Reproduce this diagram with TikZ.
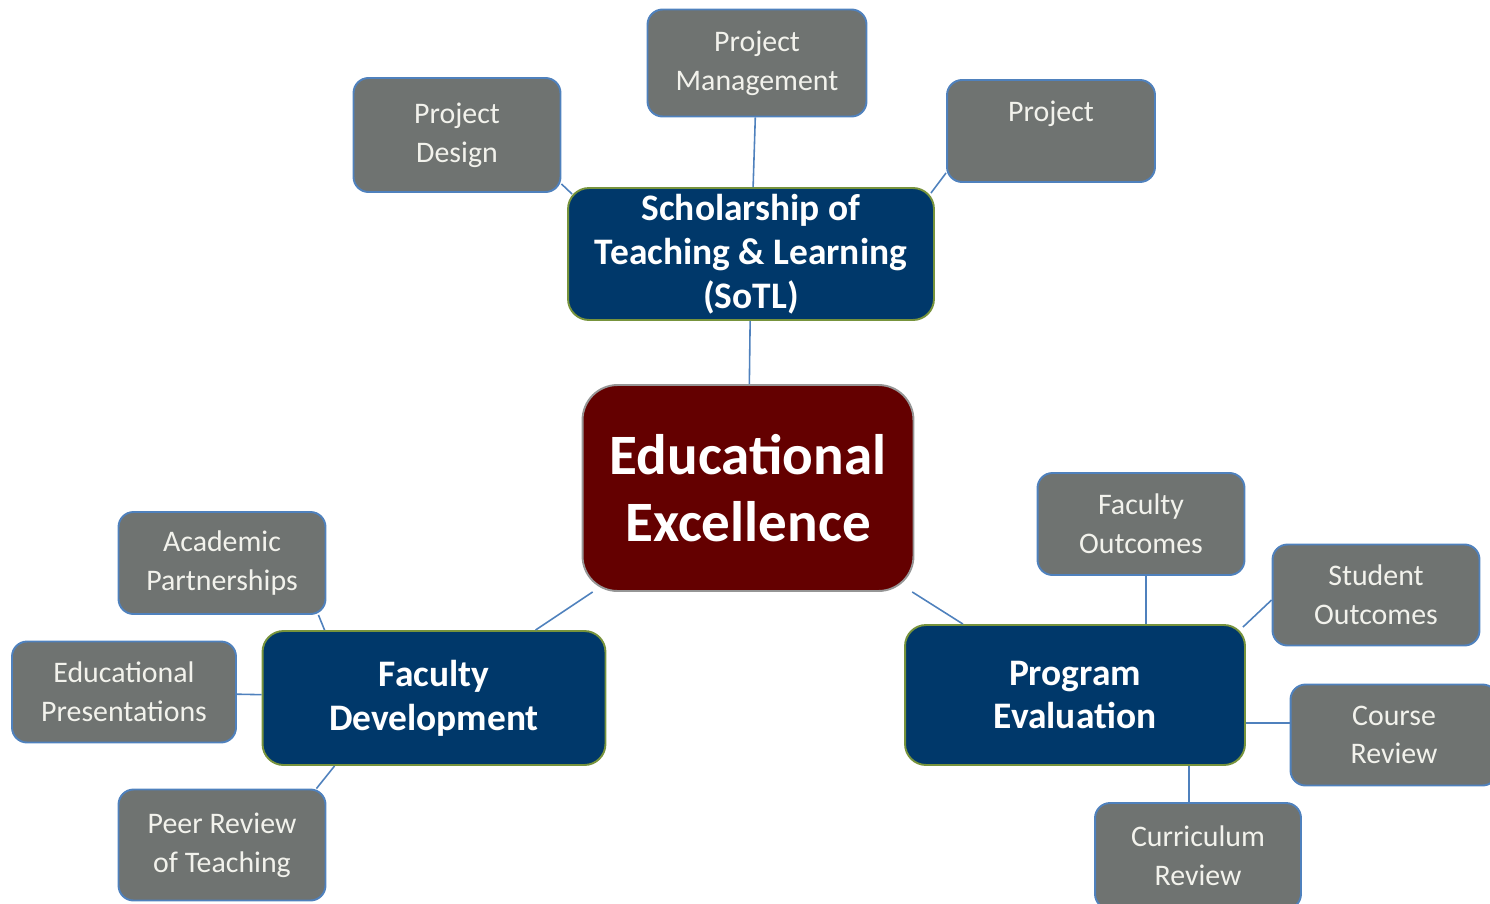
\documentclass[tikz,border=0pt]{standalone}
\usepackage{fontspec}
\setmainfont{Carlito}
\definecolor{leafgray}{RGB}{111,115,113}
\definecolor{leafedge}{RGB}{79,129,189}
\definecolor{leaftext}{RGB}{242,242,236}
\definecolor{branchblue}{RGB}{0,56,106}
\definecolor{branchedge}{RGB}{119,147,60}
\definecolor{hubred}{RGB}{100,0,0}
\definecolor{hubedge}{RGB}{150,150,150}
\definecolor{linkblue}{RGB}{79,129,189}
\tikzstyle{leaf}=[draw=leafedge, line width=1.1pt, fill=leafgray, rounded corners=0.3cm, text=leaftext, align=center, inner sep=0pt, font=\fontsize{17}{22}\selectfont]
\tikzstyle{branch}=[draw=branchedge, line width=1.1pt, fill=branchblue, rounded corners=0.42cm, text=white, align=center, inner sep=0pt, font=\bfseries\fontsize{21.3}{25}\selectfont]
\tikzstyle{hub}=[draw=hubedge, line width=1.1pt, fill=hubred, rounded corners=0.7cm, text=white, align=center, inner sep=0pt, font=\bfseries\fontsize{32.5}{38}\selectfont]
\tikzstyle{link}=[draw=linkblue, line width=0.9pt]
\begin{document}
\begin{tikzpicture}[x=0.02cm, y=-0.02cm]
\useasboundingbox (0,0) rectangle (1490,903);
% centre and the three branches
\node[hub, minimum width=6.62cm, minimum height=4.12cm] (ee) at (748,488) {Educational\\Excellence};
\node[branch, minimum width=7.32cm, minimum height=2.64cm] (sotl) at (751,254) {Scholarship of\\Teaching \& Learning\\(SoTL)};
\node[branch, minimum width=6.86cm, minimum height=2.68cm] (fd) at (434,698) {Faculty\\Development};
\node[branch, minimum width=6.80cm, minimum height=2.80cm] (pe) at (1075,695) {Program\\Evaluation};
% SoTL leaves
\node[leaf, minimum width=4.38cm, minimum height=2.14cm] (pm) at (757,63) {Project\\Management};
\node[leaf, minimum width=4.14cm, minimum height=2.28cm] (pd) at (457,135) {Project\\Design};
\node[leaf, minimum width=4.16cm, minimum height=2.04cm] (proj) at (1051,131) {Project\\~};
% faculty development leaves
\node[leaf, minimum width=4.14cm, minimum height=2.04cm] (ap) at (222,563) {Academic\\Partnerships};
\node[leaf, minimum width=4.48cm, minimum height=2.02cm] (ep) at (124,692) {Educational\\Presentations};
\node[leaf, minimum width=4.14cm, minimum height=2.22cm] (pr) at (222,845) {Peer Review\\of Teaching};
% program evaluation leaves
\node[leaf, minimum width=4.14cm, minimum height=2.04cm] (fo) at (1141,524) {Faculty\\Outcomes};
\node[leaf, minimum width=4.14cm, minimum height=2.02cm] (so) at (1376,595) {Student\\Outcomes};
\node[leaf, minimum width=4.14cm, minimum height=2.02cm] (cr) at (1394,735) {Course\\Review};
\node[leaf, minimum width=4.12cm, minimum height=2.12cm] (curr) at (1198,856) {Curriculum\\Review};
% connectors
\draw[link] (pm) -- (sotl);
\draw[link] ([yshift=0.18cm]pd.south east) -- ([xshift=0.1cm,yshift=-0.14cm]sotl.north west);
\draw[link] ([yshift=0.2cm]proj.south west) -- ([xshift=-0.08cm,yshift=-0.12cm]sotl.north east);
\draw[link] (sotl) -- (ee);
\draw[link] (ee) -- (fd);
\draw[link] (ee) -- (pe);
\draw[link] ([xshift=-0.16cm]ap.south east) -- ([xshift=1.26cm]fd.north west);
\draw[link] (ep) -- (fd);
\draw[link] ([xshift=-0.2cm]pr.north east) -- ([xshift=1.46cm]fd.south west);
\draw[link] ([xshift=0.1cm]fo.south) -- ([xshift=0.1cm]fo.south |- pe.north);
\draw[link] ([yshift=-0.1cm]so.west) -- ([xshift=-0.06cm,yshift=-0.06cm]pe.north east);
\draw[link] ([yshift=0.24cm]cr.west) -- ([yshift=0.24cm]cr.west -| pe.east);
\draw[link] ([xshift=-0.18cm]curr.north) -- ([xshift=-0.18cm]curr.north |- pe.south);
\end{tikzpicture}
\end{document}
